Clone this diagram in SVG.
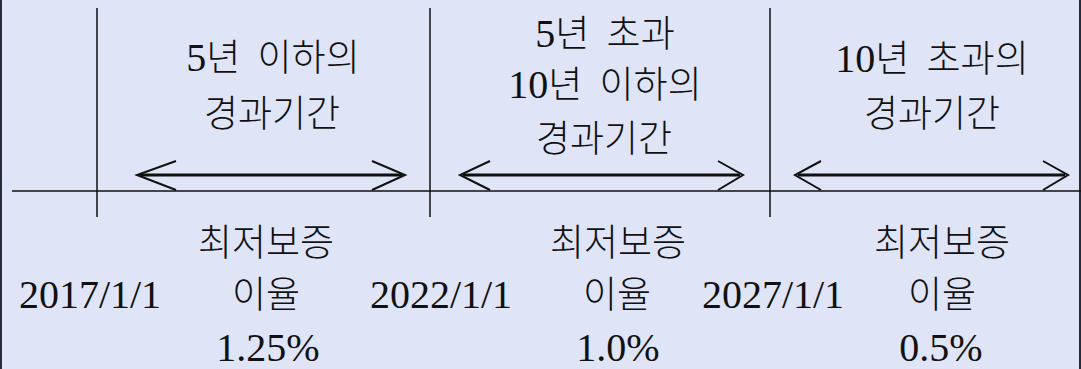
<svg xmlns="http://www.w3.org/2000/svg" width="1081" height="369" viewBox="0 0 1081 369">
<defs>
<style>
.t{font-family:"Liberation Serif","Noto Sans CJK KR",serif;font-size:37px;font-weight:300;fill:#111;text-anchor:middle;word-spacing:8px}
.n{font-size:40px;font-weight:400}
.ln{stroke:#111;stroke-width:1.5;fill:none}
.sh{stroke:#111;stroke-width:3;fill:none}
.hd{stroke:#111;stroke-width:2;fill:none;stroke-linejoin:miter}
</style>
</defs>
<rect x="0" y="0" width="1081" height="369" fill="#dfe4f7"/>
<line x1="1" y1="0" x2="1" y2="369" stroke="#2a2a36" stroke-width="2"/>
<line x1="1080" y1="0" x2="1080" y2="369" stroke="#2a2a36" stroke-width="2"/>
<g id="connectors">
<line class="ln" x1="12" y1="191" x2="1081" y2="191"/>
<line class="ln" x1="97" y1="8" x2="97" y2="217"/>
<line class="ln" x1="430" y1="8" x2="430" y2="217"/>
<line class="ln" x1="770" y1="8" x2="770" y2="217"/>
<line class="sh" x1="140" y1="175" x2="402" y2="175"/>
<polyline class="hd" points="176,161 137,175 176,190"/>
<polyline class="hd" points="372,161 405,175 372,190"/>
<line class="sh" x1="463" y1="175" x2="740" y2="175"/>
<polyline class="hd" points="490,161 460,175 490,190"/>
<polyline class="hd" points="718,161 743,175 718,190"/>
<line class="sh" x1="798" y1="175" x2="1065" y2="175"/>
<polyline class="hd" points="821,161 795,175 821,190"/>
<polyline class="hd" points="1043,161 1068,175 1043,190"/>
</g>
<g id="period1">
<text class="t" x="273" y="71"><tspan class="n">5</tspan>년 이하의</text>
<text class="t" x="272" y="127">경과기간</text>
</g>
<g id="period2">
<text class="t" x="605" y="47"><tspan class="n">5</tspan>년 초과</text>
<text class="t" x="605" y="98"><tspan class="n">10</tspan>년 이하의</text>
<text class="t" x="604" y="152">경과기간</text>
</g>
<g id="period3">
<text class="t" x="932" y="72"><tspan class="n">10</tspan>년 초과의</text>
<text class="t" x="932" y="127">경과기간</text>
</g>
<g id="date1"><text class="t" x="90" y="308"><tspan class="n">2017/1/1</tspan></text></g>
<g id="date2"><text class="t" x="441" y="308"><tspan class="n">2022/1/1</tspan></text></g>
<g id="date3"><text class="t" x="773" y="308"><tspan class="n">2027/1/1</tspan></text></g>
<g id="rate1">
<text class="t" x="266" y="256">최저보증</text>
<text class="t" x="266" y="308">이율</text>
<text class="t" x="268" y="361"><tspan class="n">1.25%</tspan></text>
</g>
<g id="rate2">
<text class="t" x="618" y="256">최저보증</text>
<text class="t" x="617" y="308">이율</text>
<text class="t" x="618" y="361"><tspan class="n">1.0%</tspan></text>
</g>
<g id="rate3">
<text class="t" x="942" y="256">최저보증</text>
<text class="t" x="942" y="308">이율</text>
<text class="t" x="941" y="361"><tspan class="n">0.5%</tspan></text>
</g>
</svg>
